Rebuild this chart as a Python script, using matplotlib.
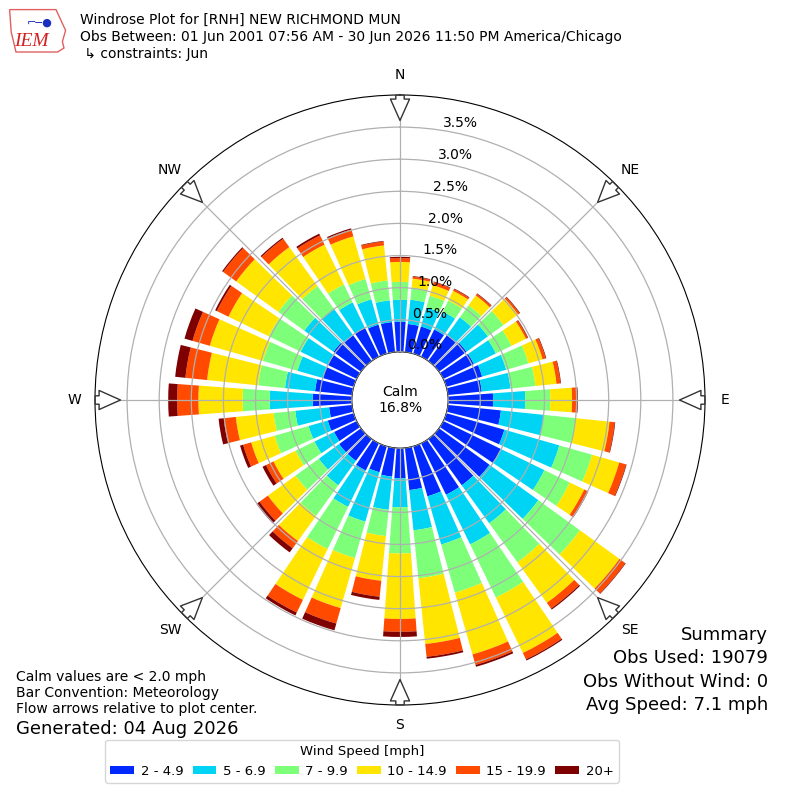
import numpy as np
import matplotlib
matplotlib.use("Agg")
import matplotlib.pyplot as plt
from matplotlib.patches import Patch, Polygon

# wind directions (deg, meteorological "from")
directions = np.arange(0, 360, 10)

# percent of obs per direction for each speed class
spd_2_5 = [0.47, 0.44, 0.44, 0.47, 0.50, 0.53, 0.53, 0.58, 0.53, 0.70,
           0.83, 0.94, 1.00, 0.97, 0.89, 0.89, 0.81, 0.66, 0.47, 0.45,
           0.42, 0.47, 0.42, 0.42, 0.39, 0.42, 0.36, 0.61, 0.58, 0.50,
           0.50, 0.53, 0.50, 0.50, 0.47, 0.47]
spd_5_7 = [0.34, 0.38, 0.31, 0.31, 0.34, 0.41, 0.38, 0.39, 0.45, 0.50,
           0.67, 0.89, 0.75, 0.94, 0.73, 0.86, 0.78, 0.63, 0.45, 0.52,
           0.80, 0.63, 0.47, 0.39, 0.34, 0.31, 0.53, 0.67, 0.47, 0.41,
           0.47, 0.56, 0.50, 0.44, 0.41, 0.34]
spd_7_10 = [0.28, 0.19, 0.19, 0.19, 0.23, 0.30, 0.27, 0.36, 0.39, 0.39,
            0.50, 0.53, 0.44, 0.80, 0.75, 0.92, 0.78, 0.75, 0.72, 0.41,
            0.59, 0.73, 0.59, 0.45, 0.33, 0.55, 0.34, 0.42, 0.42, 0.56,
            0.55, 0.50, 0.44, 0.31, 0.33, 0.31]
spd_10_15 = [0.31, 0.14, 0.17, 0.17, 0.19, 0.28, 0.25, 0.23, 0.33, 0.34,
             0.53, 0.44, 0.25, 0.76, 0.78, 0.96, 1.00, 1.03, 1.02, 0.70,
             0.81, 0.88, 0.48, 0.53, 0.38, 0.38, 0.59, 0.69, 0.80, 0.86,
             0.70, 0.81, 0.75, 0.69, 0.69, 0.55]
spd_15_20 = [0.06, 0.03, 0.05, 0.03, 0.03, 0.03, 0.03, 0.05, 0.06, 0.08,
             0.08, 0.11, 0.06, 0.11, 0.11, 0.11, 0.17, 0.20, 0.20, 0.25,
             0.25, 0.22, 0.14, 0.16, 0.13, 0.13, 0.19, 0.33, 0.34, 0.28,
             0.20, 0.25, 0.16, 0.16, 0.11, 0.06]
spd_20p = [0.02, 0.01, 0.01, 0.01, 0.01, 0.01, 0.01, 0.01, 0.01, 0.01,
           0.01, 0.01, 0.01, 0.01, 0.02, 0.02, 0.03, 0.03, 0.08, 0.05,
           0.11, 0.05, 0.08, 0.06, 0.06, 0.05, 0.08, 0.14, 0.16, 0.13,
           0.03, 0.02, 0.02, 0.03, 0.02, 0.01]

speed_labels = ["2 - 4.9", "5 - 6.9", "7 - 9.9", "10 - 14.9", "15 - 19.9", "20+"]
colors = ["#0028ff", "#00d4f5", "#7dff7a", "#ffe500", "#ff4a00", "#7f0000"]

ring_ticks = [0.0, 0.5, 1.0, 1.5, 2.0, 2.5, 3.0, 3.5]
compass = ["N", "NE", "E", "SE", "S", "SW", "W", "NW"]
summary_lines = ["Summary", "Obs Used: 19079", "Obs Without Wind: 0", "Avg Speed: 7.1 mph"]

fig = plt.figure(figsize=(8, 8), dpi=100)
ax = fig.add_axes([0.11875, 0.11875, 0.7625, 0.7625], projection="polar")
ax.set_theta_zero_location("N")
ax.set_theta_direction(-1)

theta = np.deg2rad(directions)
width = np.deg2rad(8.2)
bottom = np.zeros(len(directions))
for vals, col in zip([spd_2_5, spd_5_7, spd_7_10, spd_10_15, spd_15_20, spd_20p], colors):
    vals = np.array(vals)
    ax.bar(theta, vals, width=width, bottom=bottom, color=col, linewidth=0, zorder=1)
    bottom = bottom + vals

ax.set_rorigin(-0.75)
ax.set_ylim(0, 4.0)
ax.set_rgrids(ring_ticks, labels=["%.1f%%" % t for t in ring_ticks], fontsize=10)
ax.set_rlabel_position(9)
ax.set_thetagrids(range(0, 360, 45), labels=compass, fontsize=10)
ax.tick_params(axis="x", pad=4)
ax.grid(True, color="#b0b0b0", linewidth=0.9, zorder=3)
ax.set_axisbelow(False)

# calm circle
ax.text(0, -0.75, "Calm\n16.8%", ha="center", va="center", fontsize=10)

# flow arrows on the rim
for ang in range(0, 360, 45):
    t = np.deg2rad(ang)
    ax.annotate("", xy=(t, 3.56), xytext=(t, 4.04), xycoords="data",
                arrowprops=dict(arrowstyle="simple,head_length=1.4,head_width=1.25,tail_width=0.55",
                                fc="white", ec="#333333", lw=1, mutation_scale=11),
                annotation_clip=False)

# header logo
logo = Polygon([[0.012, 0.988], [0.07, 0.988], [0.076, 0.975], [0.082, 0.962],
                [0.078, 0.948], [0.08, 0.94], [0.072, 0.935], [0.02, 0.935],
                [0.014, 0.96]], closed=True, fill=False, ec="#e06060", lw=1,
               transform=fig.transFigure)
fig.patches.append(logo)
fig.text(0.017, 0.943, "IEM", color="#d42020", fontsize=14, style="italic",
         family="Liberation Serif")
fig.text(0.05, 0.968, "\u2310\u2500\u25cf", color="#1a2fc0", fontsize=8, ha="center")

fig.text(0.1, 0.975, "Windrose Plot for [RNH] NEW RICHMOND MUN", fontsize=10, va="center")
fig.text(0.1, 0.954, "Obs Between: 01 Jun 2001 07:56 AM - 30 Jun 2026 11:50 PM America/Chicago",
         fontsize=10, va="center")
fig.text(0.1, 0.933, " \u21b3 constraints: Jun", fontsize=10, va="center")

# summary, one text per line
for i, line in enumerate(summary_lines):
    fig.text(0.96, 0.206 - i * 0.029, line, ha="right", va="center", fontsize=13)

fig.text(0.02, 0.134, "Calm values are < 2.0 mph\nBar Convention: Meteorology\nFlow arrows relative to plot center.",
         fontsize=10, va="center", linespacing=1.2)
fig.text(0.02, 0.089, "Generated: 04 Aug 2026", fontsize=13, va="center")

handles = [Patch(facecolor=c, label=l) for c, l in zip(colors, speed_labels)]
fig.legend(handles=handles, loc="lower center", bbox_to_anchor=(0.4525, 0.013), ncol=6,
           title="Wind Speed [mph]", fontsize=9.5, title_fontsize=9.5, handleheight=0.65,
           handlelength=1.8, handletextpad=0.5, columnspacing=0.7)

fig.savefig("out.png", dpi=100)
